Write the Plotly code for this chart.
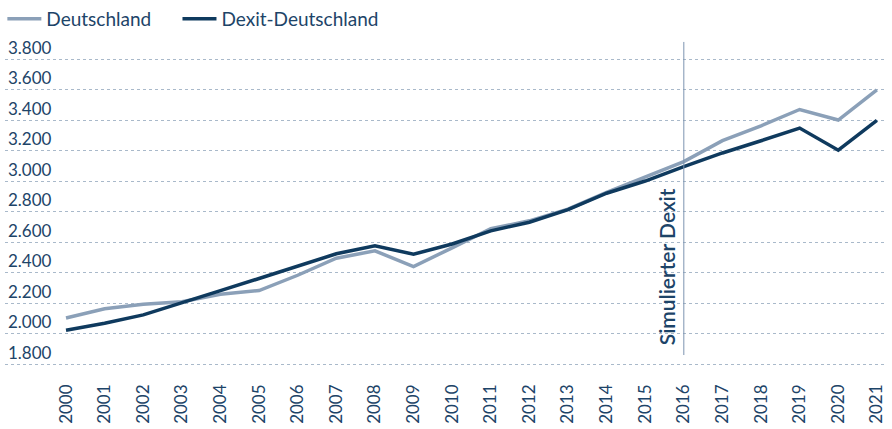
import plotly.graph_objects as go

years = list(range(2000, 2022))
year_labels = [str(y) for y in years]
deutschland = [2105, 2165, 2195, 2212, 2260, 2285, 2385, 2497, 2545, 2442, 2565,
               2690, 2742, 2818, 2928, 3030, 3130, 3268, 3365, 3472, 3403, 3600]
dexit = [2025, 2070, 2125, 2207, 2284, 2364, 2446, 2526, 2578, 2523, 2590,
         2676, 2733, 2815, 2923, 3003, 3098, 3187, 3267, 3350, 3205, 3400]
y_ticks = [1800, 2000, 2200, 2400, 2600, 2800, 3000, 3200, 3400, 3600, 3800]
y_tick_labels = ["1.800", "2.000", "2.200", "2.400", "2.600", "2.800", "3.000",
                 "3.200", "3.400", "3.600", "3.800"]
dexit_year = 2016
dexit_label = "Simulierter Dexit"

LIGHT = "#8ba0b8"
DARK = "#0f3a5e"
TEXT = "#1d4468"
FONT = "Lato"

fig = go.Figure()
fig.add_trace(go.Scatter(x=years, y=deutschland, mode="lines", name="Deutschland",
                         line=dict(color=LIGHT, width=3.5), legend="legend"))
fig.add_trace(go.Scatter(x=years, y=dexit, mode="lines", name="Dexit-Deutschland",
                         line=dict(color=DARK, width=3.5), legend="legend2"))

fig.add_shape(type="line", x0=dexit_year, x1=dexit_year, y0=1862, y1=3915,
              xref="x", yref="y", line=dict(color="#7d94b0", width=1))
fig.add_annotation(x=dexit_year, y=1912, xref="x", yref="y", text=dexit_label,
                   textangle=-90, showarrow=False, xanchor="right", yanchor="bottom",
                   xshift=-2, font=dict(family=FONT, size=21, color=TEXT, weight=600))

legend_common = dict(orientation="h", y=1, xanchor="left", yanchor="top",
                     font=dict(size=19, color=TEXT), itemwidth=34,
                     bgcolor="rgba(0,0,0,0)")

fig.update_layout(
    width=892, height=429,
    margin=dict(l=5, r=7, t=0, b=63),
    paper_bgcolor="white", plot_bgcolor="white",
    font=dict(family=FONT, size=17, color=TEXT),
    showlegend=True,
    legend=dict(x=-0.003, **legend_common),
    legend2=dict(x=0.196, **legend_common),
    xaxis=dict(range=[1998.42, 2021.21], tickvals=years, ticktext=year_labels,
               tickangle=-90, showgrid=False, zeroline=False, showline=False,
               ticks="", ticklabelstandoff=14, tickfont=dict(size=17, color=TEXT)),
    yaxis=dict(range=[1790, 4190], tickvals=y_ticks, ticktext=y_tick_labels,
               ticklabelposition="inside top", showgrid=True, gridcolor="#a9b9ca",
               griddash="dot", gridwidth=1, zeroline=False, showline=False, ticks="",
               tickfont=dict(size=17, color=TEXT)),
)

fig.write_html("out.html")
